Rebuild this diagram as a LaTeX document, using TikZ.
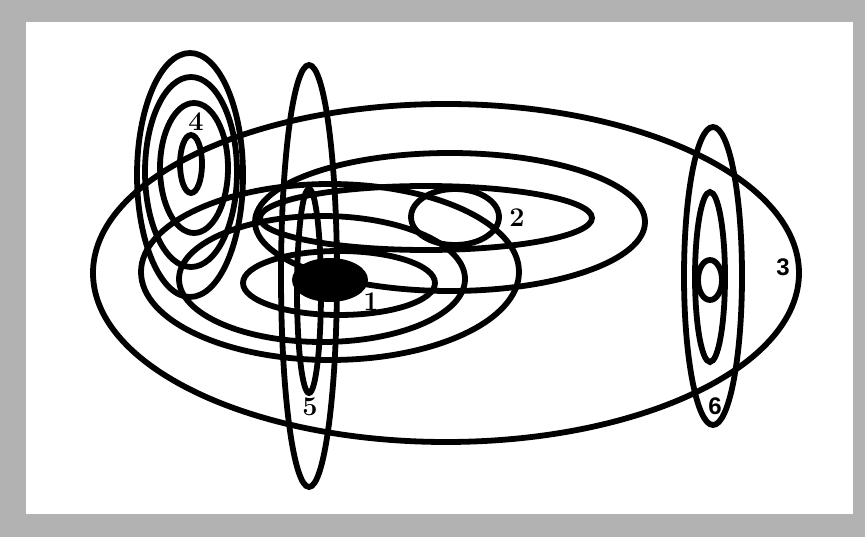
\documentclass[tikz,border=0pt]{standalone}
\usepackage{fontspec}
\newfontfamily\labsans{Liberation Sans}
\begin{document}
\begin{tikzpicture}[x=1pt, y=-1pt, every node/.style={font=\fontsize{27}{29}\selectfont\bfseries}, orbit/.style={line width=5.8pt, black}, sanslab/.style={font=\labsans\fontsize{24}{26}\selectfont\bfseries}]
    \useasboundingbox (0,0) rectangle (865,537);
    \fill[black!30] (0,0) rectangle (865,537);
    \fill[white] (26,22) rectangle (853,514);

    % big field 3
    \draw[orbit] (446,273) ellipse (353 and 169);

    % rings round 1
    \draw[orbit] (330,272) ellipse (189 and 88);
    \draw[orbit] (322,279) ellipse (143 and 63);
    \draw[orbit] (339,283) ellipse (96 and 32);

    % rings round 2
    \draw[orbit] (450,222) ellipse (195 and 69);
    \draw[orbit] (426,218) ellipse (166 and 32);
    \draw[orbit] (455,217) ellipse (44 and 28);

    % rings round 4
    \draw[orbit] (190,175) ellipse (53 and 122);
    \draw[orbit] (191,172) ellipse (46 and 95);
    \draw[orbit] (194,168) ellipse (34 and 65);
    \draw[orbit] (191,164) ellipse (11 and 29);

    % rings round 5
    \draw[orbit] (309,276) ellipse (28 and 211);
    \draw[orbit] (309,291) ellipse (12 and 102);

    % rings round 6
    \draw[orbit] (713,276) ellipse (29 and 149);
    \draw[orbit] (710,277) ellipse (15 and 85);
    \draw[orbit] (710,280) ellipse (12 and 20);

    % core 1
    \fill[black] (330,280) ellipse (38 and 22);

    \node (lab1) at (371,302) {1};
    \node (lab2) at (517,218) {2};
    \node[sanslab] (lab3) at (783,267) {3};
    \node (lab4) at (196,122) {4};
    \node (lab5) at (310,407) {5};
    \node[sanslab] (lab6) at (715,406) {6};
\end{tikzpicture}
\end{document}
